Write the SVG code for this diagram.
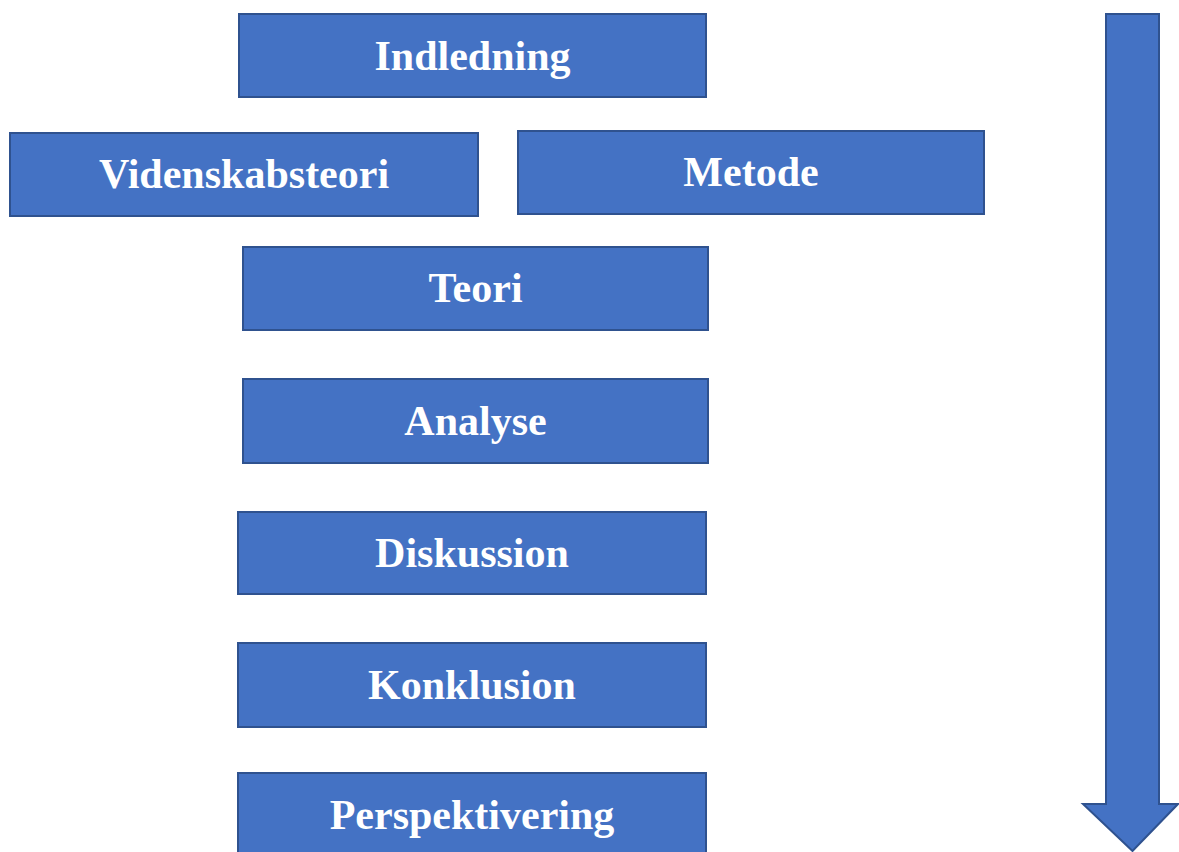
<svg xmlns="http://www.w3.org/2000/svg" width="1179" height="852" viewBox="0 0 1179 852">
<style>
.box{fill:#4472C4;stroke:#2F528F;stroke-width:2}
.lbl{font-family:"Liberation Serif","Times New Roman",serif;font-weight:bold;font-size:42px;fill:#FFFFFF;text-anchor:middle}
</style>
<rect width="1179" height="852" fill="#FFFFFF"/>
<g id="indledning"><rect class="box" x="239" y="14" width="467" height="83"/><text class="lbl" x="472.5" y="70">Indledning</text></g>
<g id="videnskabsteori"><rect class="box" x="10" y="133" width="468" height="83"/><text class="lbl" x="244" y="188">Videnskabsteori</text></g>
<g id="metode"><rect class="box" x="518" y="131" width="466" height="83"/><text class="lbl" x="751" y="186">Metode</text></g>
<g id="teori"><rect class="box" x="243" y="247" width="465" height="83"/><text class="lbl" x="475.5" y="302">Teori</text></g>
<g id="analyse"><rect class="box" x="243" y="379" width="465" height="84"/><text class="lbl" x="475.5" y="435">Analyse</text></g>
<g id="diskussion"><rect class="box" x="238" y="512" width="468" height="82"/><text class="lbl" x="472" y="567">Diskussion</text></g>
<g id="konklusion"><rect class="box" x="238" y="643" width="468" height="84"/><text class="lbl" x="472" y="699">Konklusion</text></g>
<g id="perspektivering"><rect class="box" x="238" y="773" width="468" height="84"/><text class="lbl" x="472" y="829">Perspektivering</text></g>
<g id="connectors">
<path class="box" d="M1106,14 H1159 V804 H1178 L1132.5,851 L1083,804 H1106 Z"/>
</g>
</svg>
